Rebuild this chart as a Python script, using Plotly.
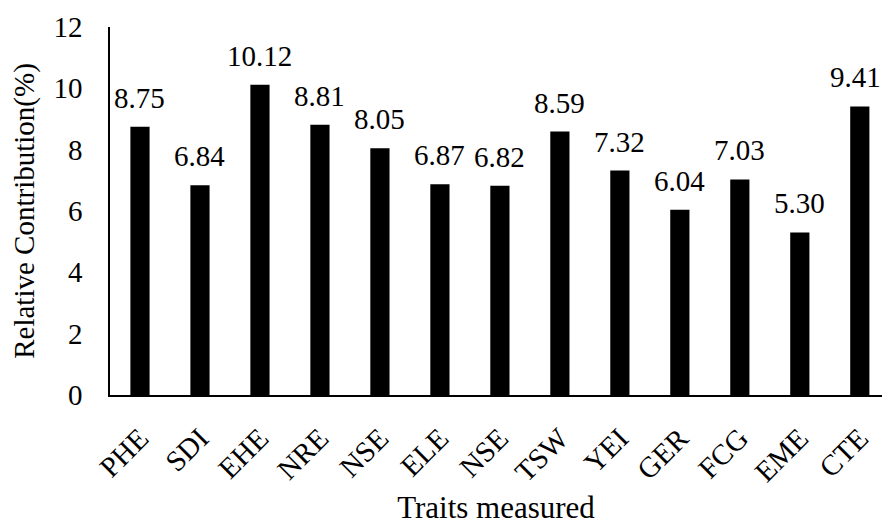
import plotly.graph_objects as go

traits = ["PHE", "SDI", "EHE", "NRE", "NSE", "ELE", "NSE", "TSW", "YEI", "GER", "FCG", "EME", "CTE"]
contribution = [8.75, 6.84, 10.12, 8.81, 8.05, 6.87, 6.82, 8.59, 7.32, 6.04, 7.03, 5.30, 9.41]
y_ticks = [0, 2, 4, 6, 8, 10, 12]

positions = list(range(len(traits)))
FONT = "Liberation Serif"

fig = go.Figure()
fig.add_trace(go.Bar(
    x=positions, y=contribution,
    marker=dict(color="black", line=dict(width=0)),
    width=0.32,
    hoverinfo="skip",
))

for xi, v in zip(positions, contribution):
    fig.add_annotation(
        x=xi, y=v, text=f"{v:.2f}", showarrow=False,
        yanchor="bottom", yshift=11,
        xshift=-4 if xi == positions[-1] else 0,
        font=dict(family=FONT, size=29, color="black"),
    )

fig.update_layout(
    width=882, height=525,
    margin=dict(l=110, r=0, t=27, b=130),
    paper_bgcolor="white", plot_bgcolor="white",
    showlegend=False,
    font=dict(family=FONT, size=28, color="black"),
    xaxis=dict(
        tickmode="array", tickvals=positions, ticktext=traits,
        tickangle=-45, range=[-0.5, 12.37],
        showline=True, linecolor="black", linewidth=1.5,
        showgrid=False, zeroline=False, ticks="",
        ticklabelstandoff=13, automargin=False,
        tickfont=dict(family=FONT, size=29),
        title=dict(text="Traits measured", font=dict(family=FONT, size=31), standoff=12),
    ),
    yaxis=dict(
        range=[0, 12], tickmode="array", tickvals=y_ticks,
        showline=True, linecolor="black", linewidth=1.5,
        showgrid=False, zeroline=False, ticks="",
        ticklabelstandoff=20, automargin=False,
        tickfont=dict(family=FONT, size=29),
        title=dict(text="Relative Contribution(%)", font=dict(family=FONT, size=29), standoff=10),
    ),
)

fig.write_html(
    "out.html",
    config={"displayModeBar": False},
    post_script="document.body.style.margin='0';document.body.style.overflow='hidden';",
)
